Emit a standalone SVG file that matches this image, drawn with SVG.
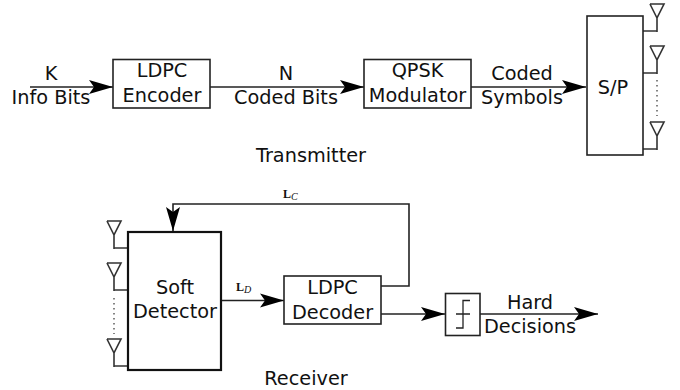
<svg xmlns="http://www.w3.org/2000/svg" width="680" height="390" viewBox="0 0 680 390">
<style>
text{font-family:"DejaVu Sans",sans-serif;font-size:19.300px;fill:#111;text-anchor:middle}
.box{fill:#fff;stroke:#222;stroke-width:1.6}
.thick{fill:#fff;stroke:#111;stroke-width:2.200}
.wire{fill:none;stroke:#222;stroke-width:1.6}
.ant{fill:none;stroke:#333;stroke-width:1.6}
.dots{fill:none;stroke:#333;stroke-width:1.2;stroke-dasharray:1.5 3.5}
.math{font-family:"Liberation Serif",serif;font-size:12px;font-weight:bold;text-anchor:start}
.sub{font-family:"Liberation Serif",serif;font-size:10px;font-style:italic;font-weight:normal}
</style>
<defs>
<marker id="arrow" markerUnits="userSpaceOnUse" markerWidth="28" markerHeight="16" refX="24" refY="8" orient="auto">
<path d="M0 1L24 8L0 15L5 8Z" fill="#000"/>
</marker>
<g id="antenna"><path d="M-7 0H7L0 14V28" class="ant"/><path d="M-7 0L0 14" class="ant"/></g>
</defs>
<g id="connectors">
<path class="wire" d="M30 87H113" marker-end="url(#arrow)"/>
<path class="wire" d="M210 87H364" marker-end="url(#arrow)"/>
<path class="wire" d="M471 87H586" marker-end="url(#arrow)"/>
<path class="wire" d="M221 300.500H284" marker-end="url(#arrow)"/>
<path class="wire" d="M381 286H409V204H173V231" marker-end="url(#arrow)"/>
<path class="wire" d="M381 314H445" marker-end="url(#arrow)"/>
<path class="wire" d="M480 314H598" marker-end="url(#arrow)"/>
<path class="ant" d="M643 31H657M643 73H657M643 149H657M128 248H114M128 290H114M128 366H114"/>
<path class="dots" d="M657 80V116M114 298V334"/>
</g>
<g id="tx-ant-1"><use href="#antenna" x="657" y="4"/></g>
<g id="tx-ant-2"><use href="#antenna" x="657" y="46"/></g>
<g id="tx-ant-3"><use href="#antenna" x="657" y="122"/></g>
<g id="rx-ant-1"><use href="#antenna" x="114" y="221"/></g>
<g id="rx-ant-2"><use href="#antenna" x="114" y="263"/></g>
<g id="rx-ant-3"><use href="#antenna" x="114" y="339"/></g>
<g id="encoder"><rect class="box" x="113" y="59.500" width="97" height="48.500"/><text x="162" y="77">LDPC</text><text x="162" y="102">Encoder</text></g>
<g id="modulator"><rect class="box" x="364" y="59.500" width="107" height="48.500"/><text x="417.500" y="77">QPSK</text><text x="417.500" y="102">Modulator</text></g>
<g id="sp"><rect class="box" x="587" y="16" width="56" height="139"/><text x="613" y="94">S/P</text></g>
<g id="detector"><rect class="thick" x="128" y="232" width="93" height="138"/><text x="175" y="294">Soft</text><text x="175" y="318">Detector</text></g>
<g id="decoder"><rect class="box" x="284" y="276" width="97" height="48"/><text x="332.500" y="294">LDPC</text><text x="332.500" y="319">Decoder</text></g>
<g id="slicer"><rect class="box" x="445.500" y="293.500" width="34.500" height="42"/><path class="wire" d="M456 328H463V300.500H470M456 314H470" style="stroke-width:1.300"/></g>
<g id="labels">
<text x="51" y="80">K</text><text x="51" y="104">Info Bits</text>
<text x="286" y="80">N</text><text x="286" y="104">Coded Bits</text>
<text x="522" y="80">Coded</text><text x="522" y="104">Symbols</text>
<text x="311" y="162">Transmitter</text>
<text x="530" y="309">Hard</text><text x="530" y="333">Decisions</text>
<text x="306" y="385">Receiver</text>
<text class="math" x="283" y="198">L<tspan class="sub" dy="2">C</tspan></text>
<text class="math" x="236" y="291">L<tspan class="sub" dy="2">D</tspan></text>
</g>
</svg>
